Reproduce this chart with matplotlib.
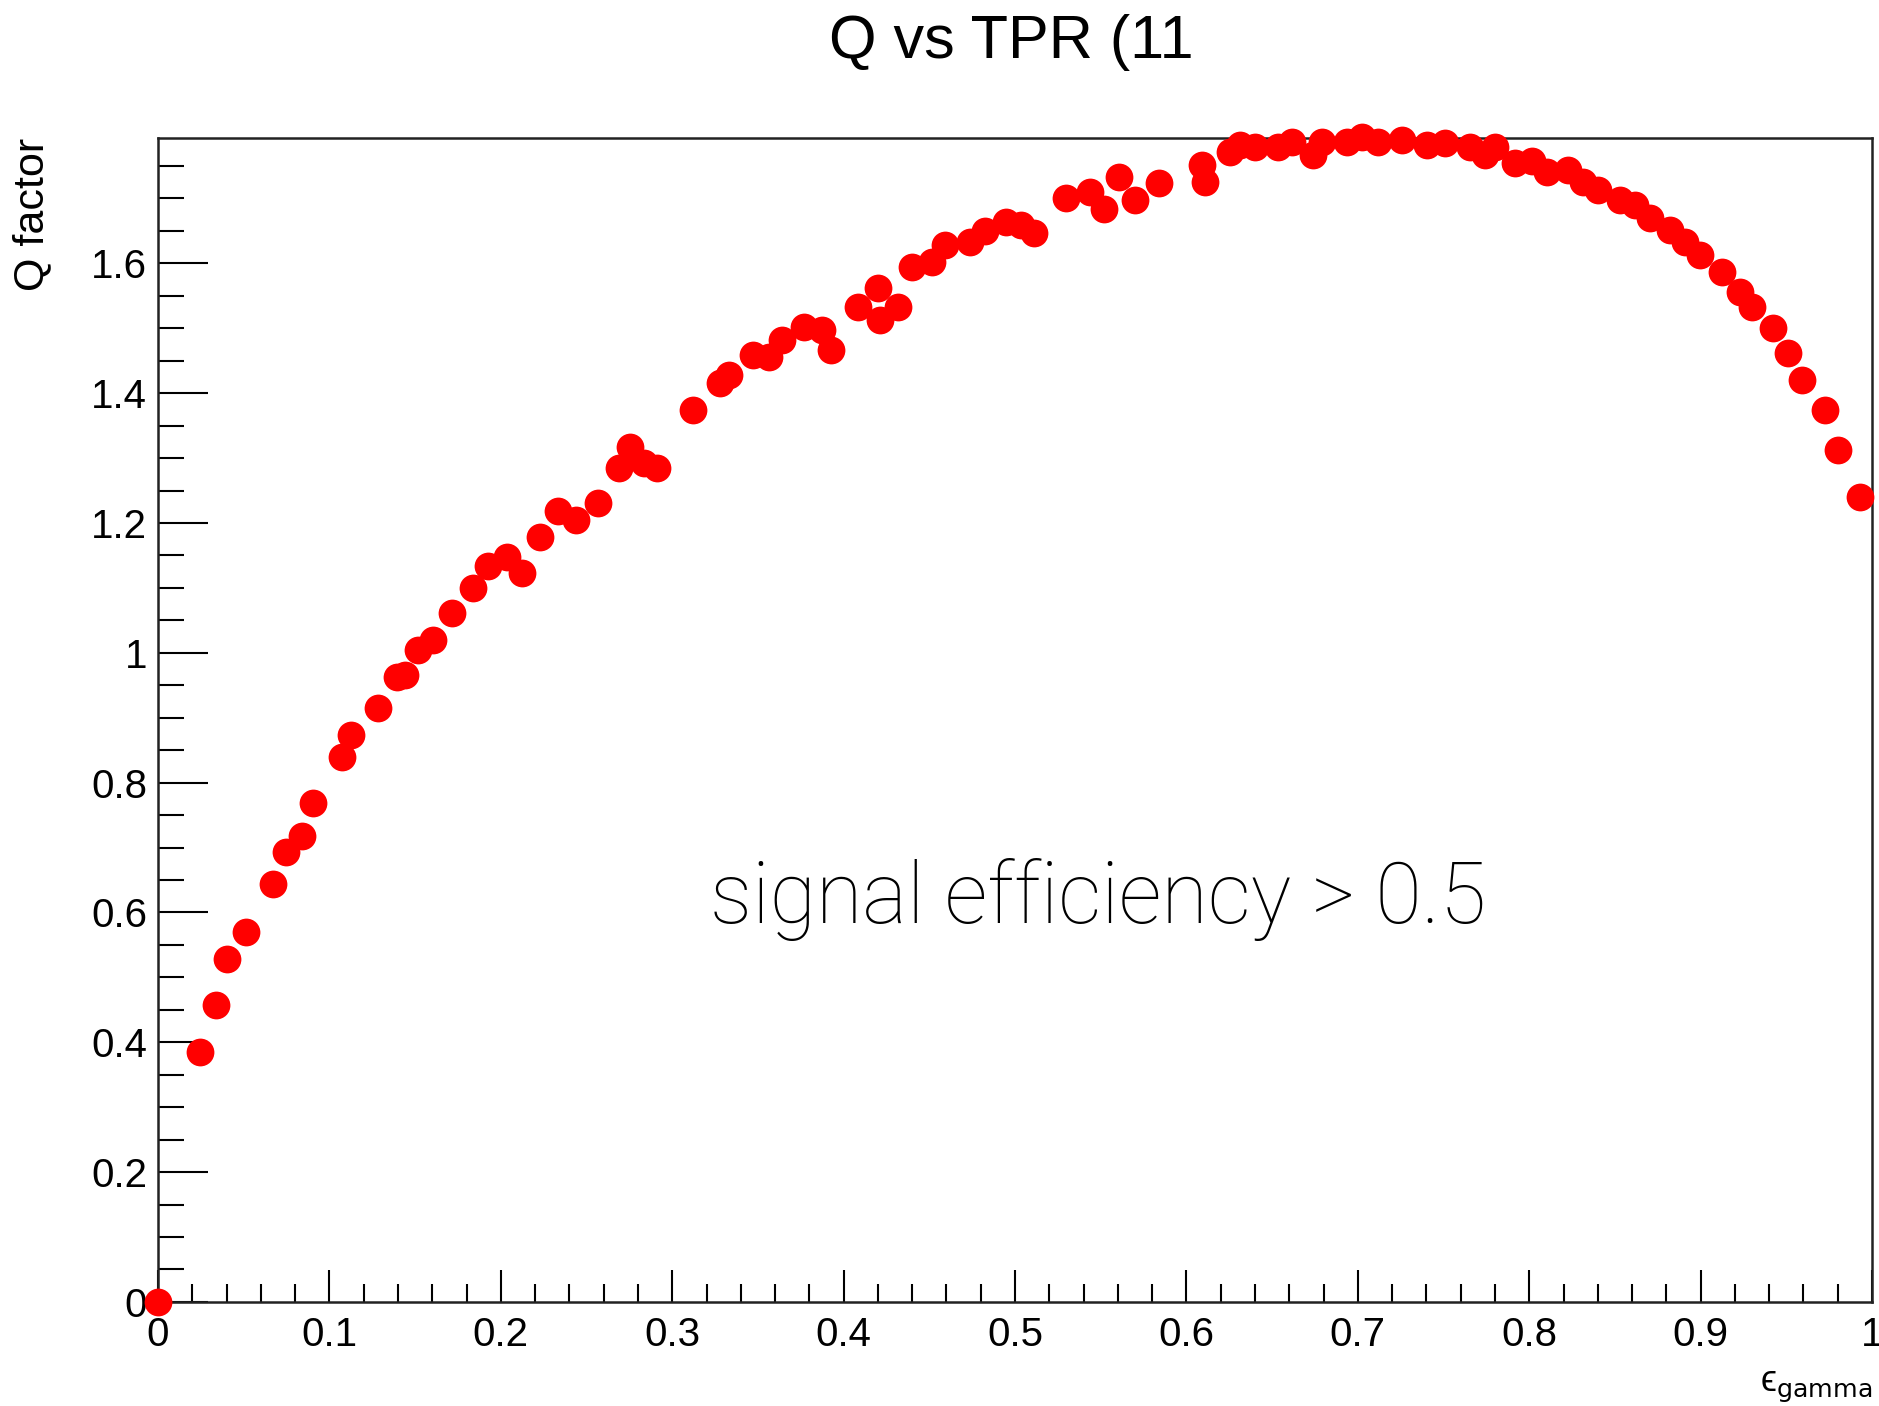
import matplotlib
matplotlib.use("Agg")
import matplotlib.pyplot as plt
from matplotlib.ticker import MultipleLocator, FuncFormatter

# signal efficiency (TPR) and Q factor
eff = [0.0, 0.0245, 0.0338, 0.0403, 0.0513, 0.0671, 0.0747, 0.0840, 0.0904,
       0.1074, 0.1126, 0.1284, 0.1394, 0.1441, 0.1517, 0.1604, 0.1715, 0.1838,
       0.1925, 0.2036, 0.2124, 0.2229, 0.2334, 0.2439, 0.2567, 0.2690, 0.2754,
       0.2835, 0.2911, 0.3121, 0.3279, 0.3331, 0.3471, 0.3565, 0.3641, 0.3769,
       0.3874, 0.3926, 0.4084, 0.4201, 0.4212, 0.4317, 0.4399, 0.4516, 0.4592,
       0.4737, 0.4825, 0.4948, 0.5035, 0.5111, 0.5298, 0.5438, 0.5519, 0.5607,
       0.5700, 0.5840, 0.6091, 0.6109, 0.6254, 0.6313, 0.6400, 0.6534, 0.6616,
       0.6739, 0.6791, 0.6937, 0.7025, 0.7118, 0.7258, 0.7404, 0.7509, 0.7655,
       0.7742, 0.7800, 0.7917, 0.8016, 0.8104, 0.8226, 0.8314, 0.8401, 0.8530,
       0.8617, 0.8705, 0.8821, 0.8909, 0.8996, 0.9125, 0.9230, 0.9300, 0.9422,
       0.9510, 0.9592, 0.9726, 0.9802, 0.9930]
qfac = [0.0, 0.385, 0.458, 0.528, 0.570, 0.644, 0.693, 0.718, 0.769,
        0.840, 0.874, 0.915, 0.963, 0.966, 1.005, 1.020, 1.062, 1.100,
        1.133, 1.148, 1.123, 1.179, 1.219, 1.205, 1.231, 1.285, 1.317,
        1.293, 1.285, 1.374, 1.416, 1.428, 1.459, 1.456, 1.482, 1.502,
        1.498, 1.467, 1.532, 1.562, 1.513, 1.533, 1.595, 1.602, 1.629,
        1.633, 1.650, 1.664, 1.659, 1.647, 1.701, 1.710, 1.683, 1.733,
        1.698, 1.724, 1.752, 1.726, 1.772, 1.783, 1.780, 1.780, 1.787,
        1.767, 1.787, 1.787, 1.794, 1.787, 1.790, 1.783, 1.786, 1.780,
        1.767, 1.780, 1.755, 1.757, 1.741, 1.744, 1.726, 1.713, 1.698,
        1.690, 1.670, 1.652, 1.633, 1.613, 1.586, 1.556, 1.533, 1.501,
        1.462, 1.421, 1.374, 1.313, 1.240]

plt.rcParams["font.family"] = ["Liberation Sans", "DejaVu Sans"]

fig = plt.figure(figsize=(18.79, 14.06), dpi=100)
ax = fig.add_axes([0.0841, 0.074, 0.9122, 0.8278])

ax.plot(eff, qfac, "o", color="#ff0000", markersize=20, markeredgewidth=0,
        clip_on=False, zorder=3)

ax.set_xlim(0, 1)
ax.set_ylim(0, 1.793)

ax.xaxis.set_major_locator(MultipleLocator(0.1))
ax.xaxis.set_minor_locator(MultipleLocator(0.02))
ax.yaxis.set_major_locator(MultipleLocator(0.2))
ax.yaxis.set_minor_locator(MultipleLocator(0.05))


def fmt(v, pos):
    s = "%.1f" % v
    if s.endswith(".0"):
        s = s[:-2]
    return s


ax.xaxis.set_major_formatter(FuncFormatter(fmt))
ax.yaxis.set_major_formatter(FuncFormatter(fmt))

ax.tick_params(axis="x", which="major", direction="in", length=23, width=1.5,
               labelsize=29, pad=10, top=False)
ax.tick_params(axis="x", which="minor", direction="in", length=13, width=1.5,
               top=False)
ax.tick_params(axis="y", which="major", direction="in", length=36, width=1.5,
               labelsize=29, pad=8, right=False)
ax.tick_params(axis="y", which="minor", direction="in", length=19, width=1.5,
               right=False)
for sp in ax.spines.values():
    sp.set_linewidth(1.8)
    sp.set_color("#222222")

ax.set_ylabel("Q factor", fontsize=31)
ax.yaxis.set_label_coords(-0.062, 1.0)
ax.yaxis.label.set_horizontalalignment("right")

ax.set_xlabel("ϵ$_{\\mathrm{gamma}}$", fontsize=26)
ax.xaxis.set_label_coords(1.0, -0.058)
ax.xaxis.label.set_horizontalalignment("right")
ax.xaxis.label.set_verticalalignment("top")

fig.text(0.538, 0.97, "Q vs TPR (11", fontsize=44, ha="center", va="center")

ax.text(0.322, 0.62, "signal efficiency > 0.5", fontsize=61,
        fontfamily="Roboto", fontweight="light", ha="left", va="center")

fig.savefig("out.png", dpi=100)
